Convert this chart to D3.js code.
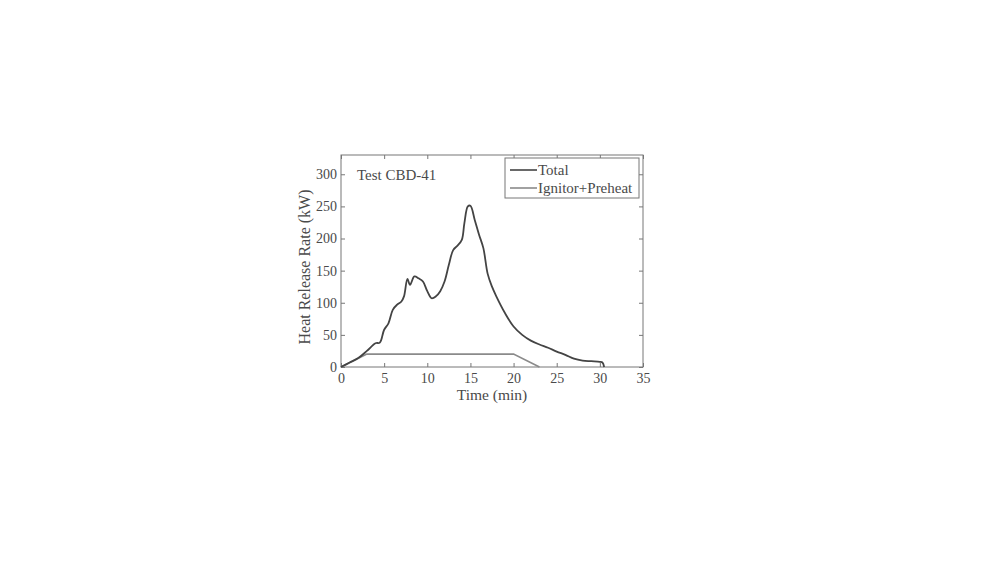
<!DOCTYPE html>
<html>
<head>
<meta charset="utf-8">
<script src="https://cdn.jsdelivr.net/npm/d3@7"></script>
<style>
  body { margin: 0; background: #fff; }
  text { font-family: "Liberation Serif", "DejaVu Serif", serif; fill: #4a4a4a; }
</style>
</head>
<body>
<svg id="chart" width="1000" height="563"></svg>
<script>
// values
const totalTime = [0, 1, 2, 3, 4, 4.5, 5, 5.5, 6, 6.5, 7, 7.3, 7.7, 8, 8.5, 9, 9.5, 10, 10.5, 11, 11.5, 12, 12.5, 13, 13.5, 14, 14.3, 14.7, 15, 15.5, 16, 16.5, 17, 17.5, 18, 19, 20, 21, 22, 23, 24, 25, 26, 27, 28, 29, 30, 30.3, 30.5];
const totalHrr  = [0, 7, 14, 25, 37, 38, 58, 68, 89, 97, 102, 110, 137, 128, 141, 138, 133, 118, 107, 110, 118, 133, 159, 182, 189, 198, 224, 250, 251, 229, 206, 185, 145, 125, 110, 84, 63, 50, 41, 35, 30, 24, 19, 13, 10, 9, 8, 7, 0];
const ignTime = [0, 3, 20, 23];
const ignHrr  = [0, 20, 20, 0];
const xTicks = [0, 5, 10, 15, 20, 25, 30, 35];
const yTicks = [0, 50, 100, 150, 200, 250, 300];
const seriesNames = ["Total", "Ignitor+Preheat"];
const seriesColors = ["#444", "#8a8a8a"];

const svg = d3.select("#chart");
const margin = { left: 341, right: 357, top: 155, bottom: 196 };
const W = 1000 - margin.left - margin.right;
const H = 563 - margin.top - margin.bottom;

const x = d3.scaleLinear().domain([0, 35]).range([0, W]);
const y = d3.scaleLinear().domain([0, 330]).range([H, 0]);

const g = svg.append("g").attr("transform", `translate(${margin.left},${margin.top})`);

// inward ticks on all four sides (MATLAB style)
const axisColor = "#777";
g.append("g").attr("transform", `translate(0,${H})`)
  .call(d3.axisBottom(x).tickValues(xTicks).tickSize(-4).tickPadding(6))
  .call(a => a.select(".domain").remove());
g.append("g")
  .call(d3.axisTop(x).tickValues(xTicks).tickSize(-4).tickFormat(""))
  .call(a => a.select(".domain").remove());
g.append("g")
  .call(d3.axisLeft(y).tickValues(yTicks).tickSize(-4).tickPadding(4))
  .call(a => a.select(".domain").remove());
g.append("g").attr("transform", `translate(${W},0)`)
  .call(d3.axisRight(y).tickValues(yTicks).tickSize(-4).tickFormat(""))
  .call(a => a.select(".domain").remove());

g.selectAll(".tick line").attr("stroke", axisColor);
g.selectAll(".tick text").style("font-size", "14px").attr("fill", "#4a4a4a")
  .style("font-family", "Liberation Serif, serif");

g.append("rect").attr("width", W).attr("height", H)
  .attr("fill", "none").attr("stroke", axisColor).attr("stroke-width", 1);

const line = d3.line().x(d => x(d[0])).y(d => y(d[1]));
g.append("path").datum(ignTime.map((t, i) => [t, ignHrr[i]]))
  .attr("d", line).attr("fill", "none").attr("stroke", seriesColors[1]).attr("stroke-width", 1.6);
g.append("path").datum(totalTime.map((t, i) => [t, totalHrr[i]]))
  .attr("d", line.curve(d3.curveCatmullRom.alpha(0.5))).attr("fill", "none")
  .attr("stroke", seriesColors[0]).attr("stroke-width", 1.8);

// annotation
g.append("text").attr("x", 16).attr("y", 25).style("font-size", "15px").text("Test CBD-41");

// legend
const leg = g.append("g").attr("transform", `translate(${W - 138},3)`);
leg.append("rect").attr("width", 134).attr("height", 40)
  .attr("fill", "#fff").attr("stroke", axisColor);
seriesNames.forEach((n, i) => {
  const yy = 12 + i * 18;
  leg.append("line").attr("x1", 5).attr("x2", 32).attr("y1", yy).attr("y2", yy)
    .attr("stroke", seriesColors[i]).attr("stroke-width", 1.6);
  leg.append("text").attr("x", 33).attr("y", yy + 5).style("font-size", "15px").text(n);
});

// axis labels
svg.append("text").attr("x", margin.left + W / 2).attr("y", 400)
  .attr("text-anchor", "middle").style("font-size", "15.5px").text("Time (min)");
svg.append("text").attr("transform", `translate(310,${margin.top + H / 2 + 6}) rotate(-90)`)
  .attr("text-anchor", "middle").style("font-size", "16px").text("Heat Release Rate (kW)");
</script>
</body>
</html>
